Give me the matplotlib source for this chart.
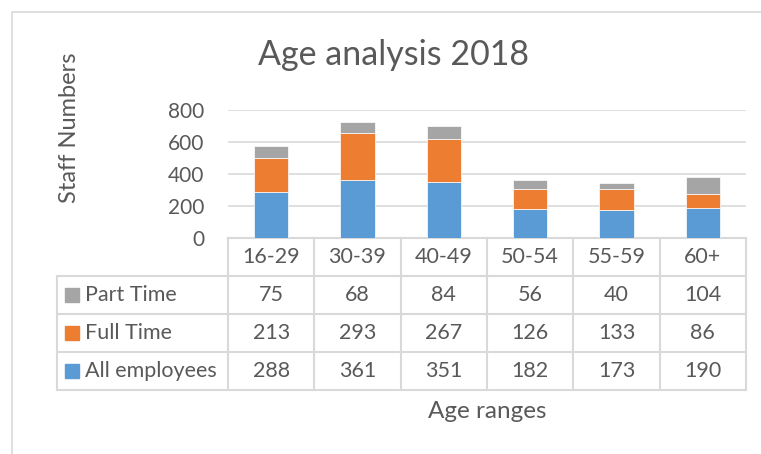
import numpy as np
import matplotlib.pyplot as plt
from matplotlib.lines import Line2D

# data
categories = ["16-29", "30-39", "40-49", "50-54", "55-59", "60+"]
all_employees = [288, 361, 351, 182, 173, 190]
full_time = [213, 293, 267, 126, 133, 86]
part_time = [75, 68, 84, 56, 40, 104]
yticks = [0, 200, 400, 600, 800]

BLUE = "#5B9BD5"
ORANGE = "#ED7D31"
GRAY = "#A5A5A5"
TXT = "#595959"
LINE = "#D9D9D9"

W, H = 761, 454
plt.rcParams['font.family'] = ['Lato', 'DejaVu Sans']

fig = plt.figure(figsize=(W / 100, H / 100), dpi=100)


def fx(px):
    return px / W


def fy(py):
    return 1 - py / H


# plot area in pixels
pl, pr, pt, pb = 228, 746, 110, 238
ax = fig.add_axes([fx(pl), fy(pb), fx(pr - pl), (pb - pt) / H])

x = np.arange(len(categories))
bw = 0.4
b1 = np.array(all_employees)
b2 = b1 + np.array(full_time)
ax.bar(x, all_employees, bw, color=BLUE, edgecolor="white", linewidth=0.5, zorder=3)
ax.bar(x, full_time, bw, bottom=b1, color=ORANGE, edgecolor="white", linewidth=0.5, zorder=3)
ax.bar(x, part_time, bw, bottom=b2, color=GRAY, edgecolor="white", linewidth=0.5, zorder=3)

ax.set_xlim(-0.5, len(categories) - 0.5)
ax.set_ylim(0, 800)
ax.set_yticks(yticks)
ax.set_xticks([])
ax.tick_params(axis="y", length=0, pad=17, labelsize=15, labelcolor=TXT)
ax.grid(axis="y", color=LINE, linewidth=1.2, zorder=0)
for s in ["top", "right", "left"]:
    ax.spines[s].set_visible(False)
ax.spines["bottom"].set_color(LINE)
ax.spines["bottom"].set_linewidth(1.5)

# data table under the plot
tl, tb = 57, 390
cw = (pr - pl) / len(categories)
xleft = -0.5 - (pl - tl) / cw
axt = fig.add_axes([fx(tl), fy(tb), fx(pr - tl), (tb - pb) / H])
axt.set_xlim(xleft, len(categories) - 0.5)
axt.set_ylim(4, 0)
axt.axis("off")

lk = dict(color=LINE, linewidth=1.5, clip_on=False)
for r in range(1, 5):
    axt.plot([xleft, len(categories) - 0.5], [r, r], **lk)
for k in range(len(categories) + 1):
    axt.plot([k - 0.5, k - 0.5], [0, 4], **lk)
axt.plot([xleft, xleft], [1, 4], **lk)

fs = 15.5
for i, c in enumerate(categories):
    axt.text(i, 0.5, c, ha="center", va="center", fontsize=fs, color=TXT)

rows = [("Part Time", part_time, GRAY),
        ("Full Time", full_time, ORANGE),
        ("All employees", all_employees, BLUE)]
for r, (name, vals, col) in enumerate(rows, start=1):
    axt.plot(xleft + (72 - tl) / cw, r + 0.5, marker="s", markersize=10,
             color=col, linestyle="none", clip_on=False)
    axt.text(xleft + (85 - tl) / cw, r + 0.5, name, ha="left", va="center",
             fontsize=fs, color=TXT)
    for i, v in enumerate(vals):
        axt.text(i, r + 0.5, str(v), ha="center", va="center", fontsize=fs, color=TXT)

# titles
fig.text(fx(393), fy(55), "Age analysis 2018", ha="center", va="center",
         fontsize=24.5, color=TXT)
fig.text(fx(70), fy(128), "Staff Numbers", ha="center", va="center",
         rotation=90, fontsize=17, color=TXT)
fig.text(fx(487), fy(411), "Age ranges", ha="center", va="center",
         fontsize=17.5, color=TXT)

# chart area border (left and top only visible)
fig.add_artist(Line2D([fx(12), fx(12), fx(W)], [0, fy(12), fy(12)],
                      transform=fig.transFigure, color=LINE, linewidth=1.2))

fig.savefig("out.png", dpi=100)
